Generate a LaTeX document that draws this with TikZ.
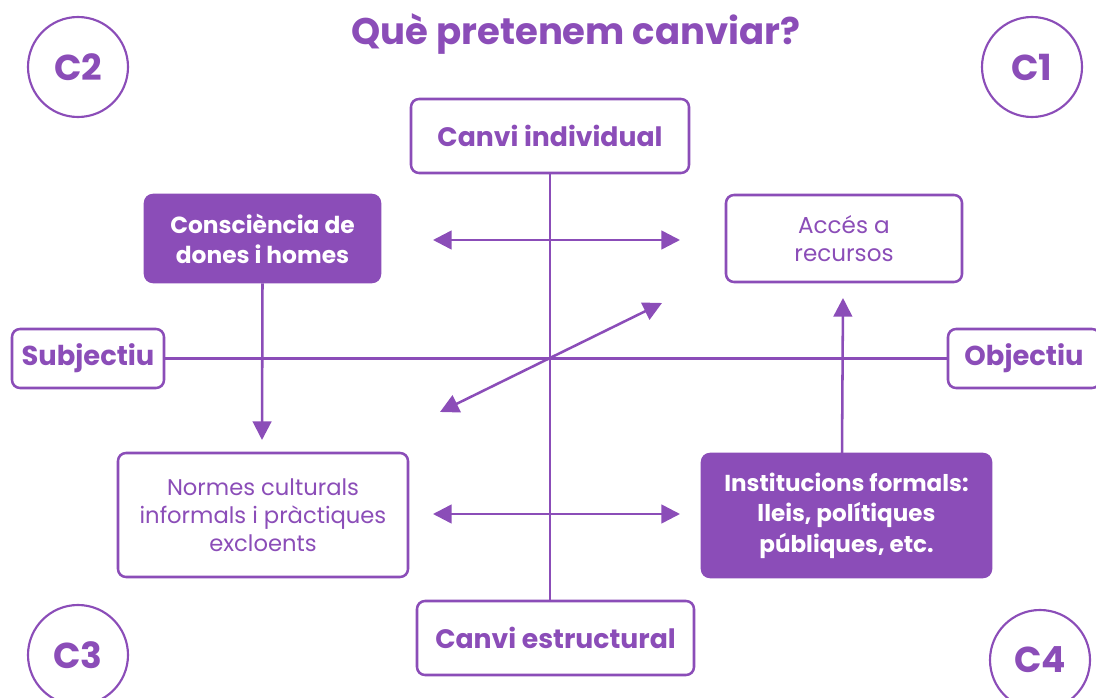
\documentclass[tikz,border=0pt]{standalone}
\usepackage{fontspec}
\setmainfont{Poppins}
\usetikzlibrary{arrows.meta, positioning}
\definecolor{lila}{HTML}{8B4DB8}

\tikzset{
  caixa/.style={draw=lila, line width=1.9pt, rounded corners=6pt, fill=white,
    text=lila, align=center, inner sep=0pt},
  plena/.style={caixa, fill=lila, text=white},
  cercle/.style={circle, draw=lila, line width=1.6pt, minimum size=75pt,
    text=lila, font=\fontsize{27}{30}\selectfont\bfseries},
  fletxa/.style={lila, line width=1.9pt, -{Triangle[length=14pt, width=14pt]}},
  doble/.style={lila, line width=1.9pt, {Triangle[length=14pt, width=14pt]}-{Triangle[length=14pt, width=14pt]}}
}

\begin{document}
\begin{tikzpicture}[x=0.75pt, y=-0.75pt]
  \useasboundingbox (0,0) rectangle (1096,698);

  \node (titol) [text=lila, font=\fontsize{27.8}{32}\selectfont\bfseries] at (576,34) {Què pretenem canviar?};

  \node (c2) [cercle] at (78,67) {C2};
  \node (c1) [cercle] at (1032,67) {C1};
  \node (c3) [cercle] at (78,655) {C3};
  \node (c4) [cercle] at (1040,660) {C4};

  \node (individual) [caixa, minimum width=208.5pt, minimum height=55.5pt,
    font=\fontsize{20}{24}\selectfont\bfseries] at (550,136) {Canvi individual};
  \node (estructural) [caixa, minimum width=207.75pt, minimum height=55.5pt,
    font=\fontsize{20}{24}\selectfont\bfseries] at (555.5,638) {Canvi estructural};
  \node (subjectiu) [caixa, minimum width=114pt, minimum height=44.25pt,
    font=\fontsize{20.5}{24}\selectfont\bfseries] at (88,358.5) {Subjectiu};
  \node (objectiu) [caixa, minimum width=114pt, minimum height=44.25pt,
    font=\fontsize{20.5}{24}\selectfont\bfseries] at (1024,358.5) {Objectiu};

  \node (consciencia) [plena, minimum width=176.25pt, minimum height=65.25pt,
    font=\fontsize{17.5}{22.5}\selectfont\bfseries] at (262.5,238.5) {Consciència de\\dones i homes};
  \node (recursos) [caixa, minimum width=177pt, minimum height=65.25pt,
    font=\fontsize{17.3}{21}\selectfont] at (844,238.5) {Accés a\\recursos};
  \node (normes) [caixa, minimum width=217.5pt, minimum height=93pt,
    font=\fontsize{17}{21}\selectfont] at (263,515) {Normes culturals\\informals i pràctiques\\excloents};
  \node (institucions) [plena, minimum width=216.75pt, minimum height=92.25pt,
    font=\fontsize{17.3}{23}\selectfont\bfseries] at (846.5,515.5) {Institucions formals:\\lleis, polítiques\\públiques, etc.};

  % eixos
  \draw[lila, line width=1.9pt] (individual.south) -- (individual.south |- estructural.north);
  \draw[lila, line width=1.9pt] (subjectiu.east) -- (objectiu.west);

  % fletxes
  \coordinate (dalt esq) at (433,240);
  \coordinate (dalt dre) at (680,240);
  \coordinate (baix esq) at (433,514);
  \coordinate (baix dre) at (680,514);
  \coordinate (diag esq) at (440,412);
  \coordinate (diag dre) at (662,303);
  \coordinate (cap normes) at (262,440);
  \coordinate (cap recursos) at (843,298);
  \coordinate (peu inst) at (842,454);

  \draw[doble] (dalt esq) -- (dalt dre);
  \draw[doble] (baix esq) -- (baix dre);
  \draw[doble] (diag esq) -- (diag dre);
  \draw[fletxa] (consciencia.south) -- (cap normes);
  \draw[fletxa] (peu inst) -- (cap recursos);
\end{tikzpicture}
\end{document}
